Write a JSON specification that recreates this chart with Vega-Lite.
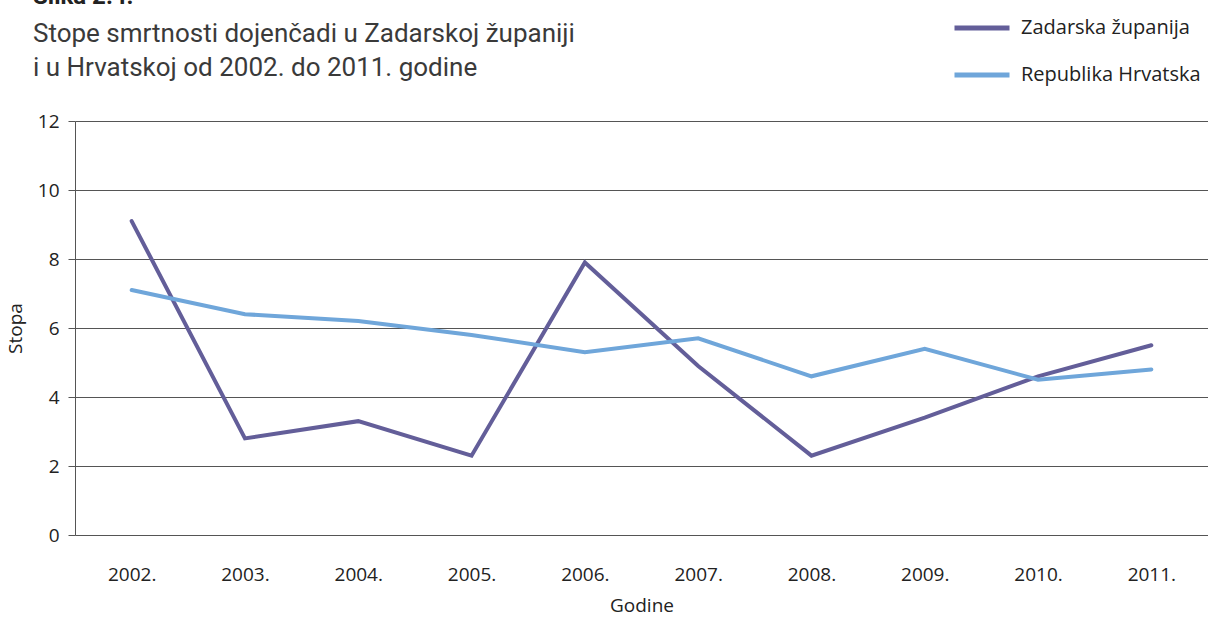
{
  "$schema": "https://vega.github.io/schema/vega-lite/v6.json",
  "autosize": "none",
  "width": 1133,
  "height": 414,
  "padding": {"left": 75, "top": 121, "right": 0, "bottom": 82},
  "background": "white",
  "title": {
    "text": "Slika 2.4.",
    "subtitle": ["Stope smrtnosti dojenčadi u Zadarskoj županiji", "i u Hrvatskoj od 2002. do 2011. godine"],
    "anchor": "start",
    "frame": "group",
    "orient": "top",
    "dx": -42,
    "offset": -83,
    "font": "Roboto",
    "fontSize": 24,
    "fontWeight": "bold",
    "color": "#222222",
    "subtitleFont": "Roboto",
    "subtitleFontSize": 26,
    "subtitleFontWeight": "normal",
    "subtitleColor": "#3a3a3a",
    "subtitleLineHeight": 34,
    "subtitlePadding": 12
  },
  "data": {
    "values": [
      {"godina": "2002.", "serija": "Zadarska županija", "stopa": 9.1},
      {"godina": "2003.", "serija": "Zadarska županija", "stopa": 2.8},
      {"godina": "2004.", "serija": "Zadarska županija", "stopa": 3.3},
      {"godina": "2005.", "serija": "Zadarska županija", "stopa": 2.3},
      {"godina": "2006.", "serija": "Zadarska županija", "stopa": 7.9},
      {"godina": "2007.", "serija": "Zadarska županija", "stopa": 4.9},
      {"godina": "2008.", "serija": "Zadarska županija", "stopa": 2.3},
      {"godina": "2009.", "serija": "Zadarska županija", "stopa": 3.4},
      {"godina": "2010.", "serija": "Zadarska županija", "stopa": 4.6},
      {"godina": "2011.", "serija": "Zadarska županija", "stopa": 5.5},
      {"godina": "2002.", "serija": "Republika Hrvatska", "stopa": 7.1},
      {"godina": "2003.", "serija": "Republika Hrvatska", "stopa": 6.4},
      {"godina": "2004.", "serija": "Republika Hrvatska", "stopa": 6.2},
      {"godina": "2005.", "serija": "Republika Hrvatska", "stopa": 5.8},
      {"godina": "2006.", "serija": "Republika Hrvatska", "stopa": 5.3},
      {"godina": "2007.", "serija": "Republika Hrvatska", "stopa": 5.7},
      {"godina": "2008.", "serija": "Republika Hrvatska", "stopa": 4.6},
      {"godina": "2009.", "serija": "Republika Hrvatska", "stopa": 5.4},
      {"godina": "2010.", "serija": "Republika Hrvatska", "stopa": 4.5},
      {"godina": "2011.", "serija": "Republika Hrvatska", "stopa": 4.8}
    ]
  },
  "mark": {"type": "line", "strokeWidth": 4, "strokeCap": "round", "strokeJoin": "miter"},
  "encoding": {
    "x": {
      "field": "godina",
      "type": "ordinal",
      "scale": {"type": "point", "padding": 0.5},
      "axis": {
        "title": "Godine",
        "titleFont": "Open Sans",
        "titleFontSize": 19,
        "titleFontWeight": "normal",
        "titleColor": "#222222",
        "titlePadding": 12,
        "labelFont": "Open Sans",
        "labelFontSize": 19,
        "labelColor": "#222222",
        "labelAngle": 0,
        "labelPadding": 30,
        "ticks": false,
        "domain": false,
        "grid": false
      }
    },
    "y": {
      "field": "stopa",
      "type": "quantitative",
      "scale": {"domain": [0, 12]},
      "axis": {
        "title": "Stopa",
        "titleFont": "Open Sans",
        "titleFontSize": 19,
        "titleFontWeight": "normal",
        "titleColor": "#222222",
        "titlePadding": 12,
        "labelFont": "Open Sans",
        "labelFontSize": 19,
        "labelColor": "#222222",
        "labelPadding": 9,
        "values": [0, 2, 4, 6, 8, 10, 12],
        "tickSize": 7,
        "tickColor": "#555555",
        "domainColor": "#555555",
        "gridColor": "#555555",
        "gridOpacity": 1,
        "grid": true
      }
    },
    "color": {
      "field": "serija",
      "type": "nominal",
      "sort": ["Zadarska županija", "Republika Hrvatska"],
      "scale": {"domain": ["Zadarska županija", "Republika Hrvatska"], "range": ["#635e99", "#6fa6da"]},
      "legend": {
        "title": null,
        "orient": "none",
        "legendX": 877,
        "legendY": -123,
        "symbolType": "stroke",
        "symbolSize": 3025,
        "symbolStrokeWidth": 5,
        "labelFont": "Open Sans",
        "labelFontSize": 20,
        "labelLimit": 400,
        "labelColor": "#222222",
        "labelOffset": 9,
        "rowPadding": 7
      }
    }
  },
  "config": {"view": {"stroke": null}}
}
